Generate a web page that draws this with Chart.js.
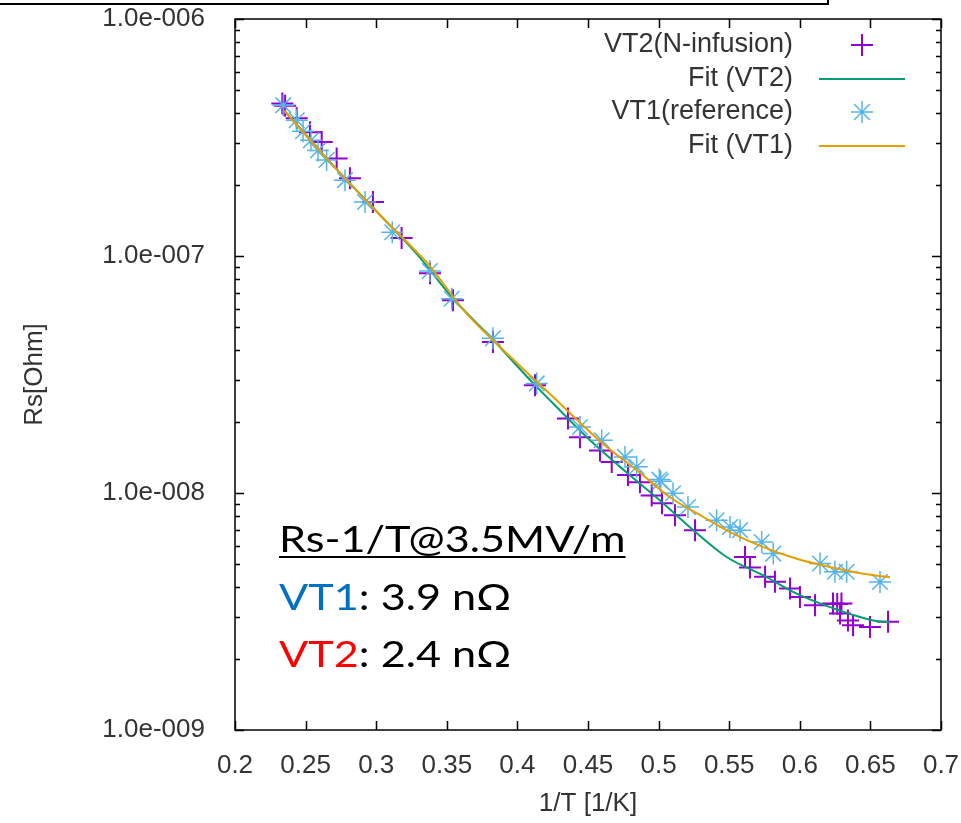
<!DOCTYPE html>
<html><head><meta charset="utf-8">
<script src="https://cdn.jsdelivr.net/npm/chart.js@4.4.1/dist/chart.umd.min.js"></script>
<style>
html,body{margin:0;padding:0;background:#fff;}
#wrap{position:relative;width:961px;height:823px;overflow:hidden;background:#fff;}
#c{position:absolute;left:0;top:0;}
#box{position:absolute;left:-4px;top:-19px;width:831px;height:22px;border-right:2px solid #000;border-bottom:2px solid #000;}
.note{position:absolute;left:279px;font-family:Lato,"Open Sans",sans-serif;font-size:36px;line-height:36px;color:#000;white-space:nowrap;transform:scaleX(1.2);transform-origin:0 0;}
#n1{top:520px;text-decoration:underline;text-decoration-thickness:2px;text-underline-offset:4px;}
#n2{top:578px;}
#n3{top:635px;}
</style></head>
<body>
<div id="wrap">
<canvas id="c" width="961" height="823"></canvas>
<div id="box"></div>
<div class="note" id="n1">Rs-1/T@3.5MV/m</div>
<div class="note" id="n2"><span style="color:#0070C0">VT1</span>: 3.9 nΩ</div>
<div class="note" id="n3"><span style="color:#FF0000">VT2</span>: 2.4 nΩ</div>
</div>
<script>
// ---- data ----
const seriesNames = ['VT2(N-infusion)', 'Fit (VT2)', 'VT1(reference)', 'Fit (VT1)'];

const vt2X  = [0.2335,0.2355,0.2437,0.2531,0.2614,0.272,0.2814,0.2977,0.318,0.3381,0.3544,0.3827,0.4125,0.4358,0.4443,0.4585,0.4668,0.4783,0.4868,0.4951,0.5024,0.5116,0.5258,0.5612,0.5647,0.5754,0.5824,0.5931,0.6001,0.6108,0.6235,0.6265,0.6285,0.6295,0.6341,0.6377,0.6497,0.6625];
const vt2Rs = [4.4e-7,4.3e-7,3.81e-7,3.33e-7,3.03e-7,2.58e-7,2.13e-7,1.69e-7,1.19e-7,8.45e-8,6.5e-8,4.34e-8,2.85e-8,2.06e-8,1.72e-8,1.51e-8,1.35e-8,1.19e-8,1.11e-8,9.77e-9,9.06e-9,8.05e-9,6.97e-9,5.37e-9,4.85e-9,4.43e-9,4.22e-9,3.95e-9,3.64e-9,3.36e-9,3.42e-9,3.40e-9,3.10e-9,3.42e-9,2.90e-9,2.77e-9,2.72e-9,2.86e-9];

const vt1X  = [0.2342,0.2437,0.2482,0.2538,0.2588,0.2649,0.2779,0.2921,0.3114,0.338,0.3535,0.3827,0.4137,0.4443,0.4597,0.4762,0.4845,0.5005,0.5015,0.5102,0.5208,0.5411,0.5506,0.5577,0.573,0.5812,0.6143,0.6249,0.6332,0.6568];
const vt1Rs = [4.33e-7,3.74e-7,3.36e-7,3.08e-7,2.79e-7,2.54e-7,2.09e-7,1.69e-7,1.26e-7,8.64e-8,6.6e-8,4.5e-8,2.9e-8,1.9e-8,1.67e-8,1.42e-8,1.29e-8,1.14e-8,1.12e-8,9.97e-9,8.73e-9,7.67e-9,7.19e-9,6.97e-9,6.21e-9,5.55e-9,5.04e-9,4.65e-9,4.65e-9,4.21e-9];

const fit2X  = [0.235,0.2673,0.3027,0.3287,0.3546,0.383,0.4113,0.4302,0.4538,0.4774,0.501,0.5246,0.5482,0.5742,0.5978,0.6214,0.652,0.6639];
const fit2Rs = [4.1e-7,2.49e-7,1.49e-7,1.02e-7,6.6e-8,4.41e-8,2.9e-8,2.23e-8,1.62e-8,1.22e-8,9.3e-9,6.97e-9,5.37e-9,4.49e-9,3.76e-9,3.30e-9,2.90e-9,2.85e-9];

const fit1X  = [0.235,0.2673,0.3027,0.3287,0.3358,0.3641,0.3877,0.4254,0.4373,0.4608,0.4845,0.5081,0.5317,0.5506,0.5742,0.5978,0.6214,0.645,0.6639];
const fit1Rs = [4.1e-7,2.49e-7,1.49e-7,1.04e-7,9.4e-8,5.71e-8,4.13e-8,2.54e-8,2.17e-8,1.61e-8,1.25e-8,9.6e-9,7.92e-9,6.84e-9,5.91e-9,5.28e-9,4.87e-9,4.56e-9,4.41e-9];

const xTickValues = [0.2,0.25,0.3,0.35,0.4,0.45,0.5,0.55,0.6,0.65,0.7];
const xTickLabels = ['0.2','0.25','0.3','0.35','0.4','0.45','0.5','0.55','0.6','0.65','0.7'];
const yTickValues = [1e-9,1e-8,1e-7,1e-6];
const yTickLabels = ['1.0e-009','1.0e-008','1.0e-007','1.0e-006'];
const xTitle = '1/T [1/K]';
const yTitle = 'Rs[Ohm]';

const pts = (xs, ys) => xs.map((x, i) => ({x: x, y: ys[i]}));

const COL = {vt2:'#9400D3', fit2:'#009E73', vt1:'#56B4E9', fit1:'#E69F00'};
const TXT = '#333333';
Chart.defaults.font.family = '"Liberation Sans", Arial, sans-serif';
Chart.defaults.color = TXT;

const frame = {
  id: 'frame',
  afterDatasetsDraw(chart) {
    const {ctx, chartArea: a, scales} = chart;
    ctx.save();
    ctx.strokeStyle = '#000';
    ctx.lineWidth = 1.5;
    ctx.beginPath();
    xTickValues.forEach(v => {
      const px = Math.round(scales.x.getPixelForValue(v)) + 0.5;
      ctx.moveTo(px, a.bottom); ctx.lineTo(px, a.bottom - 9);
      ctx.moveTo(px, a.top); ctx.lineTo(px, a.top + 9);
    });
    scales.y.ticks.forEach(t => {
      const py = Math.round(scales.y.getPixelForValue(t.value)) + 0.5;
      const len = t.major ? 9 : 5;
      ctx.moveTo(a.left, py); ctx.lineTo(a.left + len, py);
      ctx.moveTo(a.right, py); ctx.lineTo(a.right - len, py);
    });
    ctx.stroke();
    ctx.strokeRect(a.left, a.top, a.right - a.left, a.bottom - a.top);
    ctx.restore();
  },
  afterDraw(chart) {
    const {ctx} = chart;
    const rows = [45, 79, 112, 146];
    ctx.save();
    ctx.font = '27px "Liberation Sans", Arial, sans-serif';
    ctx.fillStyle = TXT;
    ctx.textAlign = 'right';
    ctx.textBaseline = 'middle';
    chart.data.datasets.forEach((ds, i) => {
      const y = rows[i];
      ctx.fillText(ds.label, 793, y);
      ctx.strokeStyle = ds.borderColor;
      ctx.lineWidth = ds.borderWidth;
      ctx.beginPath();
      if (ds.showLine === false) {
        const r = ds.pointRadius;
        ctx.moveTo(862 - r, y); ctx.lineTo(862 + r, y);
        ctx.moveTo(862, y - r); ctx.lineTo(862, y + r);
        if (ds.pointStyle === 'star') {
          const d = r * 0.72;
          ctx.moveTo(862 - d, y - d); ctx.lineTo(862 + d, y + d);
          ctx.moveTo(862 - d, y + d); ctx.lineTo(862 + d, y - d);
        }
      } else {
        ctx.moveTo(819, y); ctx.lineTo(905, y);
      }
      ctx.stroke();
    });
    ctx.restore();
  }
};

new Chart(document.getElementById('c'), {
  type: 'scatter',
  data: {
    datasets: [
      {label: seriesNames[0], data: pts(vt2X, vt2Rs), showLine: false, pointStyle: 'cross', pointRadius: 11, borderWidth: 2, borderColor: COL.vt2, backgroundColor: COL.vt2, order: 4},
      {label: seriesNames[1], data: pts(fit2X, fit2Rs), showLine: true, pointRadius: 0, borderWidth: 2, borderColor: COL.fit2, cubicInterpolationMode: 'monotone', order: 3},
      {label: seriesNames[2], data: pts(vt1X, vt1Rs), showLine: false, pointStyle: 'star', pointRadius: 11, borderWidth: 1.5, borderColor: COL.vt1, backgroundColor: COL.vt1, order: 2},
      {label: seriesNames[3], data: pts(fit1X, fit1Rs), showLine: true, pointRadius: 0, borderWidth: 2, borderColor: COL.fit1, cubicInterpolationMode: 'monotone', order: 1}
    ]
  },
  options: {
    responsive: false,
    animation: false,
    events: [],
    layout: {padding: {top: 19, right: 20, bottom: 0, left: 0}},
    plugins: {legend: {display: false}, tooltip: {enabled: false}},
    scales: {
      x: {
        type: 'linear', min: 0.2, max: 0.7,
        grid: {display: false}, border: {display: false},
        afterBuildTicks: s => { s.ticks = xTickValues.map(v => ({value: v})); },
        afterFit: s => { s.height = 93; s.paddingLeft = 0; s.paddingRight = 0; },
        ticks: {autoSkip: false, maxRotation: 0, padding: 12, font: {size: 26}, color: TXT,
                callback: (v, i) => xTickLabels[i]},
        title: {display: true, text: xTitle, font: {size: 26}, color: TXT, padding: {top: 0, bottom: 4}}
      },
      y: {
        type: 'logarithmic', min: 1e-9, max: 1e-6,
        grid: {display: false}, border: {display: false},
        afterBuildTicks: s => {
          const t = [];
          for (let e = -9; e <= -7; e++) for (let k = 1; k <= 9; k++) t.push({value: k * Math.pow(10, e), major: k === 1});
          t.push({value: 1e-6, major: true});
          s.ticks = t;
        },
        afterFit: s => { s.width = 235; s.paddingTop = 0; s.paddingBottom = 0; },
        ticks: {autoSkip: false, padding: 22, font: {size: 26}, color: TXT,
                callback: v => { const i = yTickValues.findIndex(t => Math.abs(t - v) / t < 1e-6); return i >= 0 ? yTickLabels[i] : ''; }},
        title: {display: true, text: yTitle, font: {size: 26}, color: TXT, padding: {top: 19, bottom: 0}}
      }
    }
  },
  plugins: [frame]
});
</script>
</body></html>
